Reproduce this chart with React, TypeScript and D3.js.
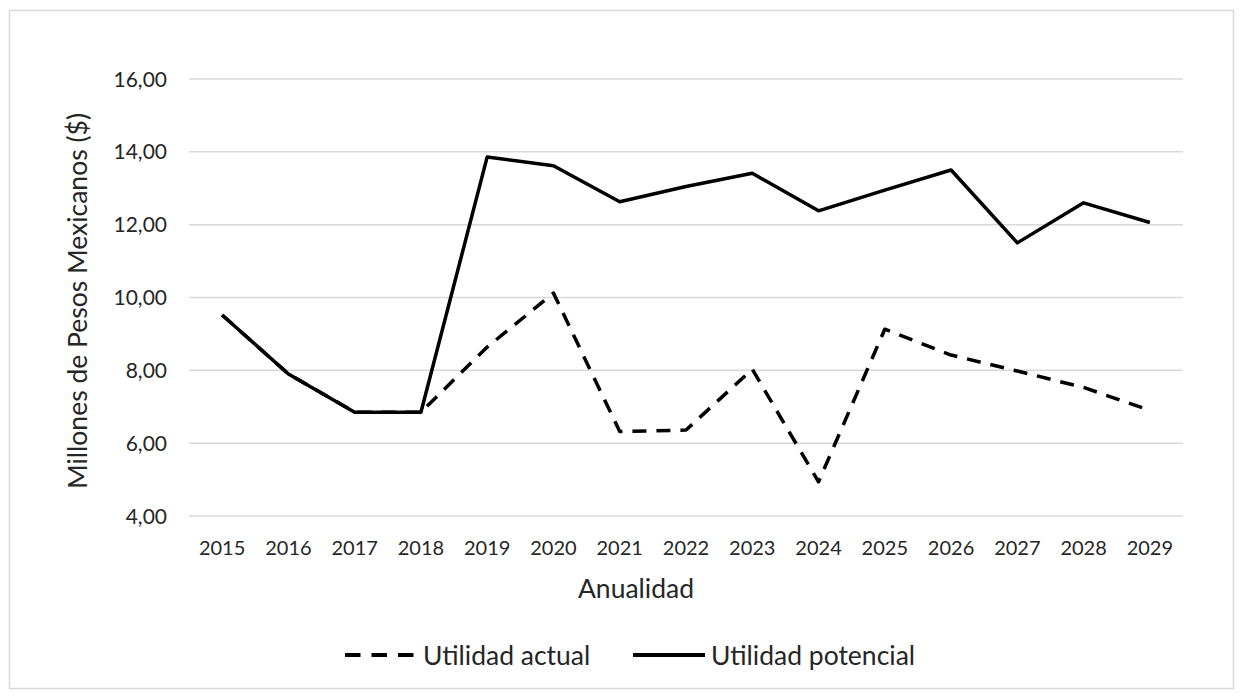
import React from "react";
import * as d3 from "d3";

const years = ["2015","2016","2017","2018","2019","2020","2021","2022","2023","2024","2025","2026","2027","2028","2029"];
const actual = [9.52, 7.9, 6.85, 6.85, 8.64, 10.12, 6.32, 6.36, 8.03, 4.94, 9.13, 8.42, 7.98, 7.53, 6.9];
const potencial = [9.52, 7.9, 6.85, 6.85, 13.86, 13.62, 12.63, 13.05, 13.41, 12.38, 12.95, 13.5, 11.5, 12.6, 12.06];
const yTicks = [4, 6, 8, 10, 12, 14, 16];

const W = 1243, H = 696;
const left = 189, right = 1183, top = 79, bottom = 516;
const FONT = "Lato, 'Open Sans', sans-serif";

export default function App() {
  const x = d3.scaleBand<string>().domain(years).range([left, right]);
  const y = d3.scaleLinear().domain([4, 16]).range([bottom, top]);
  const cx = (d: string) => (x(d) as number) + x.bandwidth() / 2;
  const line = d3.line<number>().x((_, i) => cx(years[i])).y((v) => y(v));
  const fmt = (v: number) => v.toFixed(2).replace(".", ",");
  return (
    <svg width={W} height={H} style={{ position: "absolute", left: 0, top: 0 }}>
      <rect x={0} y={0} width={W} height={H} fill="#fff" />
      <rect x={9.5} y={10.5} width={1224} height={678} fill="#fff" stroke="#d9d9d9" strokeWidth={1.5} />
      {yTicks.map((t) => (
        <g key={t}>
          <line x1={left} x2={right} y1={y(t)} y2={y(t)} stroke="#d9d9d9" strokeWidth={1.5} />
          <text x={167} y={y(t)} dy="0.36em" textAnchor="end" fontFamily={FONT} fontSize={21} fill="#262626">{fmt(t)}</text>
        </g>
      ))}
      {years.map((yr) => (
        <text key={yr} x={cx(yr)} y={555} textAnchor="middle" fontFamily={FONT} fontSize={20} fill="#262626">{yr}</text>
      ))}
      <path d={line(actual) as string} fill="none" stroke="#000" strokeWidth={3.5} strokeDasharray="14,10" strokeLinejoin="round" />
      <path d={line(potencial) as string} fill="none" stroke="#000" strokeWidth={3.5} strokeLinejoin="round" />
      <text x={636} y={598} textAnchor="middle" fontFamily={FONT} fontSize={26.5} fill="#262626">Anualidad</text>
      <text transform={`translate(87,301) rotate(-90)`} textAnchor="middle" fontFamily={FONT} fontSize={26.5} fill="#262626">Millones de Pesos Mexicanos ($)</text>
      <line x1={345} x2={414} y1={655} y2={655} stroke="#000" strokeWidth={4} strokeDasharray="15.5,11" />
      <text x={423} y={665} fontFamily={FONT} fontSize={26.5} fill="#262626">Utilidad actual</text>
      <line x1={633} x2={705} y1={655} y2={655} stroke="#000" strokeWidth={4} />
      <text x={711} y={665} fontFamily={FONT} fontSize={26.5} fill="#262626">Utilidad potencial</text>
    </svg>
  );
}
